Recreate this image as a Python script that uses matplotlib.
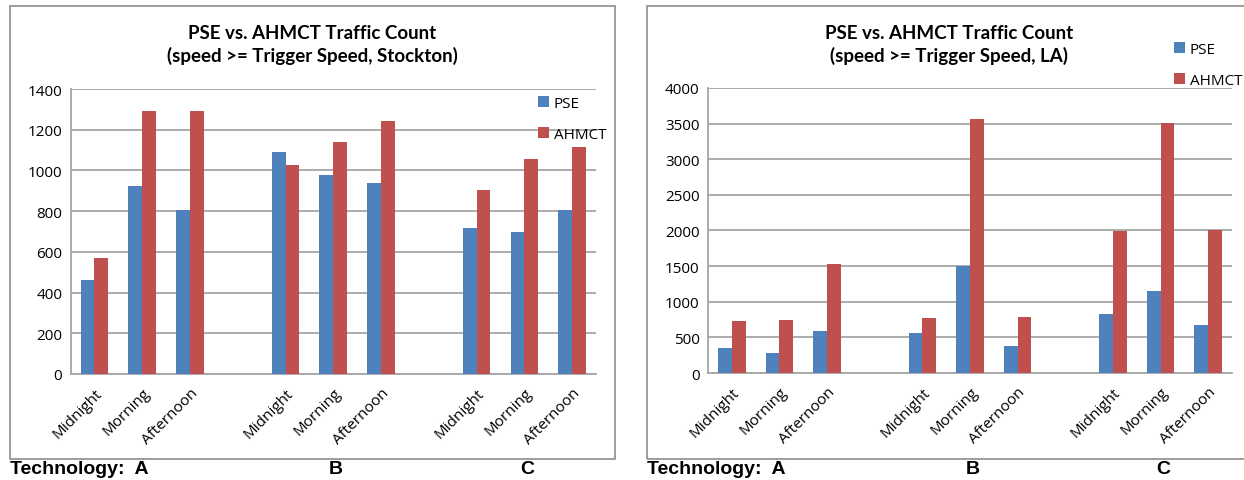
import numpy as np
import matplotlib.pyplot as plt
from matplotlib.patches import Rectangle

periods = ['Midnight', 'Morning', 'Afternoon']
techs = ['A', 'B', 'C']

# Stockton counts, per technology: Midnight, Morning, Afternoon
stockton_pse = [462, 923, 806, 1090, 978, 938, 717, 698, 806]
stockton_ahmct = [570, 1292, 1292, 1027, 1140, 1243, 904, 1056, 1115]

# LA counts
la_pse = [356, 285, 594, 566, 1506, 384, 833, 1156, 678]
la_ahmct = [734, 749, 1535, 777, 3570, 791, 1998, 3513, 2012]

titles = ['PSE vs. AHMCT Traffic Count\n(speed >= Trigger Speed, Stockton)',
          'PSE vs. AHMCT Traffic Count\n(speed >= Trigger Speed, LA)']

blue = '#4F81BD'
red = '#C0504D'
grid_c = '#A6A6A6'

W, H = 1244, 481
fig = plt.figure(figsize=(W / 100, H / 100), dpi=100)


def fx(px):
    return px / W


def fy(py):
    return 1 - py / H


def draw_panel(ax, pse, ahmct, ymax, step):
    # 3 slots per technology plus one empty slot between groups
    x = np.array([g * 4 + i for g in range(3) for i in range(3)], dtype=float)
    w = 0.29
    ax.bar(x - w / 2, pse, w, color=blue, label='PSE', zorder=3)
    ax.bar(x + w / 2, ahmct, w, color=red, label='AHMCT', zorder=3)
    ax.set_xlim(-0.5, 10.5)
    ax.set_ylim(0, ymax)
    ax.set_yticks(np.arange(0, ymax + 1, step))
    ax.yaxis.grid(True, color=grid_c, lw=1.3, zorder=0)
    ax.set_axisbelow(True)
    for s in ['top', 'right']:
        ax.spines[s].set_visible(False)
    for s in ['left', 'bottom']:
        ax.spines[s].set_color(grid_c)
        ax.spines[s].set_linewidth(1.3)
    ax.set_xticks(x)
    ax.set_xticklabels(periods * 3, rotation=45, ha='right',
                       rotation_mode='anchor', fontsize=11, family='Open Sans')
    ax.tick_params(axis='x', length=0, pad=8)
    ax.tick_params(axis='y', length=0, pad=6, labelsize=11)
    for t in ax.get_yticklabels():
        t.set_family('Open Sans')


panels = [
    dict(box=(10, 7, 615, 460), ax=(70.6, 90, 596, 375), title_x=312,
         data=(stockton_pse, stockton_ahmct), ymax=1400, step=200,
         leg=(530, 89), techx=(336, 527)),
    dict(box=(647, 7, 1260, 460), ax=(708, 89, 1232, 374), title_x=949,
         data=(la_pse, la_ahmct), ymax=4000, step=500,
         leg=(1166, 35), techx=(973, 1163)),
]

for i, p in enumerate(panels):
    x0, y0, x1, y1 = p['box']
    fig.add_artist(Rectangle((fx(x0), fy(y1)), fx(x1 - x0), (y1 - y0) / H,
                             transform=fig.transFigure, fill=False,
                             edgecolor='#8C8C8C', lw=1.2))
    l, t, r, b = p['ax']
    ax = fig.add_axes([fx(l), fy(b), fx(r - l), (b - t) / H])
    draw_panel(ax, p['data'][0], p['data'][1], p['ymax'], p['step'])
    fig.text(fx(p['title_x']), fy(45), titles[i], ha='center', va='center',
             fontsize=13.5, fontweight='bold', family='Lato', linespacing=1.3)
    lx, ly = p['leg']
    fig.legend(handles=ax.containers, labels=['PSE', 'AHMCT'],
               loc='upper left', bbox_to_anchor=(fx(lx), fy(ly)),
               frameon=False, handlelength=0.75, handleheight=0.75,
               handletextpad=0.3, labelspacing=1.05, borderpad=0,
               prop={'family': 'Open Sans', 'size': 11})
    fig.text(fx(x0), fy(470), 'Technology:  ' + techs[0], ha='left', va='center',
             fontsize=14, fontweight='bold', family='Liberation Sans')
    for tx, lab in zip(p['techx'], techs[1:]):
        fig.text(fx(tx), fy(470), lab, ha='center', va='center',
                 fontsize=14, fontweight='bold', family='Liberation Sans')

fig.savefig('out.png', dpi=100)
